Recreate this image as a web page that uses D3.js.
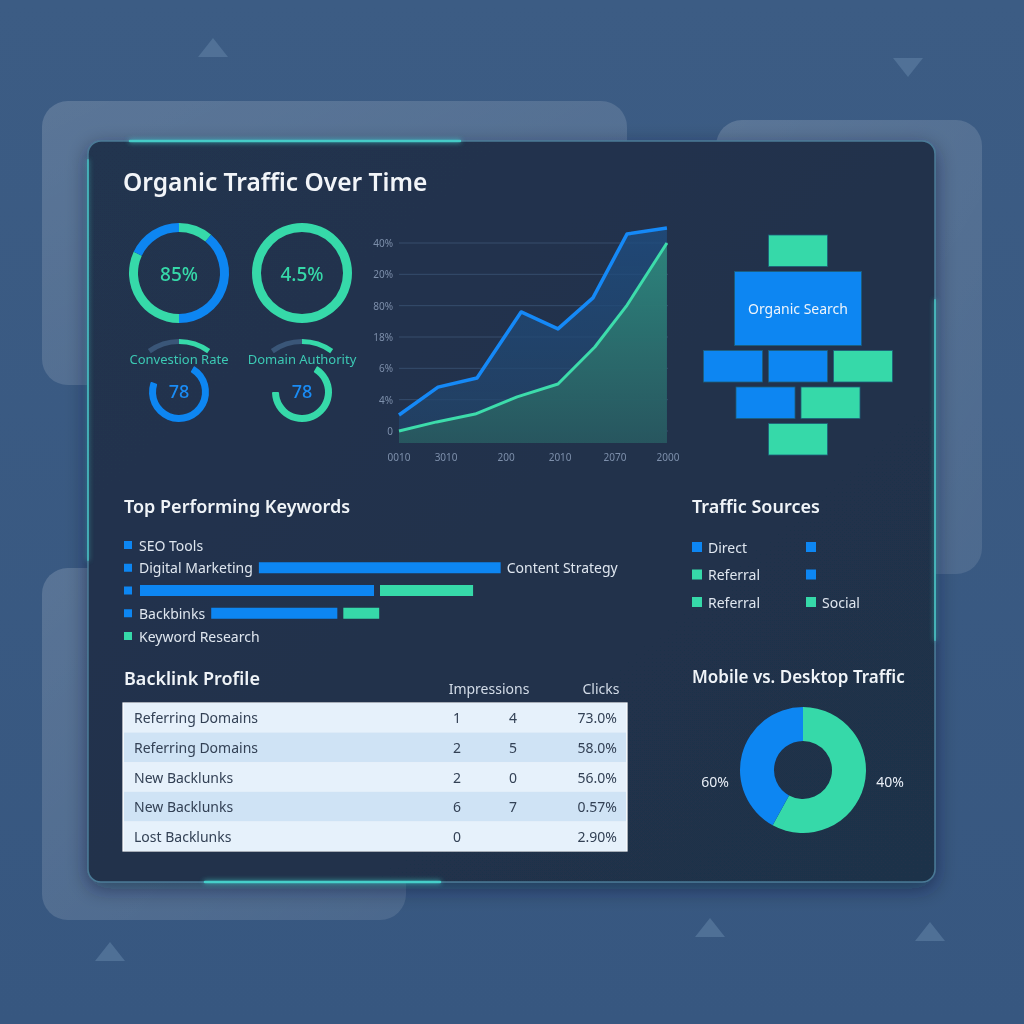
<!DOCTYPE html>
<html><head><meta charset="utf-8">
<script src="https://cdn.jsdelivr.net/npm/d3@7"></script>
<style>body{margin:0;background:#3b5a80;}svg{display:block;font-family:"Noto Sans","Open Sans",sans-serif;}</style>
</head><body>
<svg id="c" width="1024" height="1024"></svg>
<script>
// ---------- DATA ----------
const ringSegments = [ // degrees clockwise from top
  {start:0, end:40, c:"green"},{start:40, end:180, c:"blue"},{start:180, end:295, c:"green"},{start:295, end:360, c:"blue"}];
const ringLabels = ["85%", "4.5%"];
const smallGaugeLabels = ["Convestion Rate", "Domain Authority"];
const smallGaugeValues = ["78", "78"];
const smallGaugeArcs = [[30, 290], [30, 270]];
const smallGaugeColors = ["blue", "green"];

const xTickVals = [0, 17.5, 39.8, 59.9, 80.3, 100];
const xTickLabels = ["0010", "3010", "200", "2010", "2070", "2000"];
const yTickVals = [0, 1, 2, 3, 4, 5, 6];
const yTickLabels = ["0", "4%", "6%", "18%", "80%", "20%", "40%"];
const blueX = [0, 14.5, 29, 45.4, 59.1, 72.1, 84.8, 99.6];
const blueY = [0.51, 1.40, 1.69, 3.80, 3.26, 4.25, 6.29, 6.48];
const greenX = [0, 14, 28.3, 43.9, 59.1, 72.8, 84.8, 99.6];
const greenY = [0.0, 0.29, 0.54, 1.09, 1.50, 2.68, 4.02, 6.0];

const blockRows = [
  [{w:1, c:"green"}],
  [{w:2.15, c:"blue", label:"Organic Search", tall:true}],
  [{w:1, c:"blue"}, {w:1, c:"blue"}, {w:1, c:"green"}],
  [{w:1, c:"blue"}, {w:1, c:"green"}],
  [{w:1, c:"green"}]
];

const keywordLabels = ["SEO Tools", "Digital Marketing", "", "Backbinks", "Keyword Research"];
const keywordColors = ["blue", "blue", "blue", "blue", "green"];
const keywordBlue = [0, 93, 90, 48.5, 0];
const keywordGreen = [0, 0, 35.8, 13.8, 0];
const keywordBarLabel = ["", "Content Strategy", "", "", ""];

const sourceLabels = [["Direct", ""], ["Referral", ""], ["Referral", "Social"]];
const sourceColors = [["blue", "blue"], ["green", "blue"], ["green", "green"]];

const tableHeaders = ["Impressions", "Clicks"];
const tableNames = ["Referring Domains", "Referring Domains", "New Backlunks", "New Backlunks", "Lost Backlunks"];
const tableImpr = ["1", "2", "2", "6", "0"];
const tableImpr2 = ["4", "5", "0", "7", ""];
const tableClicks = ["73.0%", "58.0%", "56.0%", "0.57%", "2.90%"];

const donutValues = [58, 42]; // green (right), blue (left) as drawn
const donutLabels = ["40%", "60%"];

// ---------- STYLE ----------
const COL = {blue:"#0d86f2", green:"#36d9a9"};
const svg = d3.select("#c");
const defs = svg.append("defs");

const bg = defs.append("linearGradient").attr("id","bg").attr("x1",0).attr("y1",0).attr("x2",0).attr("y2",1);
bg.append("stop").attr("offset",0).attr("stop-color","#3c5c84");
bg.append("stop").attr("offset",1).attr("stop-color","#375780");
svg.append("rect").attr("width",1024).attr("height",1024).attr("fill","url(#bg)");

const pg = defs.append("linearGradient").attr("id","pg").attr("x1",0).attr("y1",0).attr("x2",1).attr("y2",1);
pg.append("stop").attr("offset",0).attr("stop-color","#ffffff").attr("stop-opacity",0.16);
pg.append("stop").attr("offset",1).attr("stop-color","#ffffff").attr("stop-opacity",0.10);

const glow = defs.append("filter").attr("id","glow").attr("x","-20%").attr("y","-20%").attr("width","140%").attr("height","140%");
glow.append("feGaussianBlur").attr("stdDeviation",2.5).attr("result","b");
const fm = glow.append("feMerge"); fm.append("feMergeNode").attr("in","b"); fm.append("feMergeNode").attr("in","SourceGraphic");

const shadow = defs.append("filter").attr("id","sh").attr("x","-10%").attr("y","-10%").attr("width","120%").attr("height","120%");
shadow.append("feDropShadow").attr("dx",0).attr("dy",6).attr("stdDeviation",10).attr("flood-color","#0d1a2c").attr("flood-opacity",0.45);

// triangles
[[213,48,1],[908,67,-1],[110,952,1],[710,928,1],[930,932,1]].forEach(([x,y,d])=>{
  svg.append("path").attr("d",`M${x-15},${y+d*9} L${x+15},${y+d*9} L${x},${y-d*10} Z`).attr("fill","#5a7aa0").attr("opacity",0.7);
});
// back panels
svg.append("rect").attr("x",42).attr("y",101).attr("width",585).attr("height",284).attr("rx",26).attr("fill","url(#pg)");
svg.append("rect").attr("x",716).attr("y",120).attr("width",266).attr("height",454).attr("rx",26).attr("fill","url(#pg)");
svg.append("rect").attr("x",42).attr("y",568).attr("width",364).attr("height",352).attr("rx",26).attr("fill","url(#pg)");

// main panel
const mp = defs.append("linearGradient").attr("id","mp").attr("x1",0).attr("y1",0).attr("x2",1).attr("y2",1);
mp.append("stop").attr("offset",0).attr("stop-color","#22344f");
mp.append("stop").attr("offset",1).attr("stop-color","#1f3049");
svg.append("rect").attr("x",88).attr("y",141).attr("width",847).attr("height",741).attr("rx",13).attr("fill","url(#mp)").attr("filter","url(#sh)").attr("stroke","#4a7a96").attr("stroke-width",1.5);
// glow edges
const gl = svg.append("g").attr("filter","url(#glow)").attr("stroke","#46d6cf").attr("stroke-linecap","round");
gl.append("line").attr("x1",130).attr("x2",460).attr("y1",141).attr("y2",141).attr("stroke-width",2.5).attr("opacity",0.85);
gl.append("line").attr("x1",88).attr("x2",88).attr("y1",160).attr("y2",560).attr("stroke-width",2).attr("opacity",0.55);
gl.append("line").attr("x1",205).attr("x2",440).attr("y1",882).attr("y2",882).attr("stroke-width",2.5).attr("opacity",0.9);
gl.append("line").attr("x1",935).attr("x2",935).attr("y1",300).attr("y2",640).attr("stroke-width",2).attr("opacity",0.6);

const txt = (x,y,s,o={}) => svg.append("text").attr("x",x).attr("y",y).text(s)
  .attr("font-size",o.size||14).attr("fill",o.fill||"#e8eef6").attr("font-weight",o.weight||400)
  .attr("text-anchor",o.anchor||"start").attr("dominant-baseline","central");

txt(123,181,"Organic Traffic Over Time",{size:24.5,weight:600,fill:"#f2f5f9"});

// ---------- RINGS ----------
const rad = d => d*Math.PI/180;
const ringArc = d3.arc().innerRadius(41).outerRadius(50);
const r1 = svg.append("g").attr("transform","translate(179,273)");
r1.selectAll("path").data(ringSegments).join("path")
  .attr("d",d=>ringArc({startAngle:rad(d.start),endAngle:rad(d.end)})).attr("fill",d=>COL[d.c]);
const r2 = svg.append("g").attr("transform","translate(302,273)");
r2.append("path").attr("d",ringArc({startAngle:0,endAngle:2*Math.PI})).attr("fill",COL.green);
txt(179,274,ringLabels[0],{size:19,weight:500,fill:COL.green,anchor:"middle"});
txt(302,274,ringLabels[1],{size:19,weight:500,fill:COL.green,anchor:"middle"});

const smallArc = d3.arc().innerRadius(23).outerRadius(30).cornerRadius(1);
const outerArc = d3.arc().innerRadius(48).outerRadius(53);
[179,302].forEach((cx,i)=>{
  const g = svg.append("g").attr("transform",`translate(${cx},392)`);
  g.append("path").attr("d",outerArc({startAngle:rad(-36),endAngle:0})).attr("fill","#3a5678");
  g.append("path").attr("d",outerArc({startAngle:0,endAngle:rad(36)})).attr("fill",COL.green);
  g.append("path").attr("d",smallArc({startAngle:rad(smallGaugeArcs[i][0]),endAngle:rad(smallGaugeArcs[i][1])})).attr("fill",COL[smallGaugeColors[i]]);
  txt(cx,359,smallGaugeLabels[i],{size:13,fill:"#3cc9b4",anchor:"middle"});
  txt(cx,391,smallGaugeValues[i],{size:18,weight:500,fill:"#1a8cf5",anchor:"middle"});
});

// ---------- LINE CHART ----------
const x = d3.scaleLinear().domain([0,100]).range([399,668]);
const y = d3.scaleLinear().domain([0,6]).range([431,243]);
const base = y(-0.38);
const lc = svg.append("g");
lc.selectAll("line.grid").data(yTickVals).join("line").attr("class","grid")
  .attr("x1",x(0)).attr("x2",x(100)).attr("y1",d=>y(d)).attr("y2",d=>y(d)).attr("stroke","#364c6c").attr("stroke-width",1);
lc.selectAll("text.yt").data(yTickVals).join("text").attr("class","yt")
  .attr("x",393).attr("y",d=>y(d)).attr("text-anchor","end").attr("dominant-baseline","central")
  .attr("font-size",10).attr("fill","#7d8fab").text((d,i)=>yTickLabels[i]);
lc.selectAll("text.xt").data(xTickVals).join("text").attr("class","xt")
  .attr("x",d=>x(d)).attr("y",457).attr("text-anchor","middle").attr("dominant-baseline","central")
  .attr("font-size",10).attr("fill","#7d8fab").text((d,i)=>xTickLabels[i]);

const bPts = blueX.map((v,i)=>[v,blueY[i]]);
const gPts = greenX.map((v,i)=>[v,greenY[i]]);
const ba = defs.append("linearGradient").attr("id","ba").attr("x1",0).attr("y1",0).attr("x2",0).attr("y2",1);
ba.append("stop").attr("offset",0).attr("stop-color","#1f4d80").attr("stop-opacity",0.8);
ba.append("stop").attr("offset",1).attr("stop-color","#23456a").attr("stop-opacity",0.7);
const ga = defs.append("linearGradient").attr("id","ga").attr("x1",0).attr("y1",0).attr("x2",0).attr("y2",1);
ga.append("stop").attr("offset",0).attr("stop-color","#2f8a7c");
ga.append("stop").attr("offset",1).attr("stop-color","#28595f");
const area = d3.area().x(d=>x(d[0])).y0(base).y1(d=>y(d[1]));
const line = d3.line().x(d=>x(d[0])).y(d=>y(d[1]));
lc.append("path").attr("d",area(bPts)).attr("fill","url(#ba)");
lc.append("path").attr("d",area(gPts)).attr("fill","url(#ga)").attr("opacity",0.9);
lc.append("path").attr("d",line(bPts)).attr("fill","none").attr("stroke","#1589f7").attr("stroke-width",3.5).attr("stroke-linejoin","round");
lc.append("path").attr("d",line(gPts)).attr("fill","none").attr("stroke","#3ddcab").attr("stroke-width",3).attr("stroke-linejoin","round");

// ---------- BLOCKS ----------
const unit = d3.scaleLinear().domain([0,1]).range([0,59]);
const gap = 6, rowH = 31.5, tallH = 74;
let by = 235;
const blk = svg.append("g");
blockRows.forEach((row,ri)=>{
  const total = d3.sum(row,d=>unit(d.w)) + gap*(row.length-1);
  let bx = 798 - total/2;
  const h = row[0].tall ? tallH : rowH;
  row.forEach(d=>{
    blk.append("rect").attr("x",bx).attr("y",by).attr("width",unit(d.w)).attr("height",h)
      .attr("fill",COL[d.c]).attr("stroke","#1d5f7a").attr("stroke-width",0.8);
    if(d.label) blk.append("text").attr("x",bx+unit(d.w)/2).attr("y",by+h/2).text(d.label)
      .attr("text-anchor","middle").attr("dominant-baseline","central").attr("font-size",14).attr("fill","#eef4fb");
    bx += unit(d.w)+gap;
  });
  by += h + 5;
});

// ---------- KEYWORDS ----------
txt(124,506,"Top Performing Keywords",{size:18,weight:600,fill:"#f0f4f8"});
const kw = d3.scaleLinear().domain([0,100]).range([0,260]);
const kwY = d3.scalePoint().domain(d3.range(5)).range([545,636]);
keywordLabels.forEach((l,i)=>{
  const yy = kwY(i);
  svg.append("rect").attr("x",124).attr("y",yy-4).attr("width",8).attr("height",8).attr("fill",COL[keywordColors[i]]);
  let tx = 139;
  if(l){ const t = txt(tx,yy,l,{size:14,fill:"#dfe6ef"}); tx += t.node().getComputedTextLength()+6; } else tx = 140;
  if(keywordBlue[i]>0){
    svg.append("rect").attr("x",tx).attr("y",yy-5.5).attr("width",kw(keywordBlue[i])).attr("height",11).attr("fill",COL.blue);
    tx += kw(keywordBlue[i]) + 6;
  }
  if(keywordGreen[i]>0){
    svg.append("rect").attr("x",tx).attr("y",yy-5.5).attr("width",kw(keywordGreen[i])).attr("height",11).attr("fill",COL.green);
  }
  if(keywordBarLabel[i]) txt(tx,yy,keywordBarLabel[i],{size:14,fill:"#dfe6ef"});
});

// ---------- TRAFFIC SOURCES ----------
txt(692,506,"Traffic Sources",{size:18,weight:600,fill:"#f0f4f8"});
const tsY = d3.scalePoint().domain(d3.range(3)).range([547,602]);
const tsX = [692, 806];
sourceLabels.forEach((row,ri)=>row.forEach((l,ci)=>{
  svg.append("rect").attr("x",tsX[ci]).attr("y",tsY(ri)-5).attr("width",10).attr("height",10).attr("fill",COL[sourceColors[ri][ci]]);
  if(l) txt(tsX[ci]+16,tsY(ri),l,{size:14,fill:"#dfe6ef"});
}));

// ---------- TABLE ----------
txt(124,678,"Backlink Profile",{size:18,weight:600,fill:"#f0f4f8"});
txt(489,688,tableHeaders[0],{size:14,fill:"#d3dce8",anchor:"middle"});
txt(601,688,tableHeaders[1],{size:14,fill:"#d3dce8",anchor:"middle"});
const rowY = d3.scaleBand().domain(d3.range(tableNames.length)).range([703,851]);
svg.append("rect").attr("x",123).attr("y",703).attr("width",504).attr("height",148).attr("fill","#e6f1fb").attr("stroke","#ffffff").attr("stroke-width",1.2);
tableNames.forEach((n,i)=>{
  const yy = rowY(i), h = rowY.bandwidth();
  svg.append("rect").attr("x",124).attr("y",yy).attr("width",502).attr("height",h).attr("fill",i%2?"#cfe3f5":"#e6f1fb");
  const c = yy+h/2;
  txt(134,c,n,{size:14,fill:"#334155"});
  txt(457,c,tableImpr[i],{size:14,fill:"#334155",anchor:"middle"});
  txt(513,c,tableImpr2[i],{size:14,fill:"#334155",anchor:"middle"});
  txt(617,c,tableClicks[i],{size:14,fill:"#334155",anchor:"end"});
});

// ---------- DONUT ----------
txt(692,676,"Mobile vs. Desktop Traffic",{size:17,weight:600,fill:"#f0f4f8"});
const pie = d3.pie().sort(null)(donutValues);
const dArc = d3.arc().innerRadius(29).outerRadius(63);
const dg = svg.append("g").attr("transform","translate(803,770)");
dg.selectAll("path").data(pie).join("path").attr("d",dArc).attr("fill",(d,i)=>i===0?COL.green:COL.blue);
txt(890,781,donutLabels[0],{size:14,fill:"#e8eef6",anchor:"middle"});
txt(715,781,donutLabels[1],{size:14,fill:"#e8eef6",anchor:"middle"});
</script>
</body></html>
